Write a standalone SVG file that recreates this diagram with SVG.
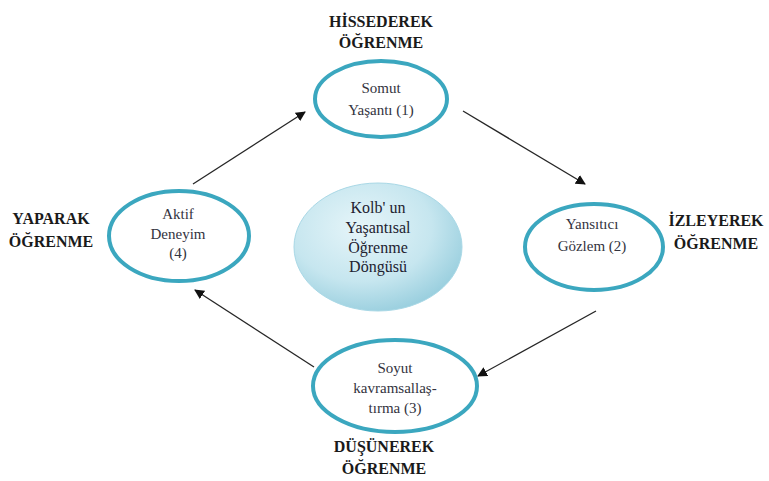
<svg xmlns="http://www.w3.org/2000/svg" width="769" height="481" viewBox="0 0 769 481">
  <style>
    .stage { fill: #ffffff; stroke: #3ba7bf; stroke-width: 4; }
    .node-text { font-family: 'Liberation Serif', 'Times New Roman', Times, 'DejaVu Serif', serif; font-size: 15px; fill: #333340; text-anchor: middle; }
    .core-text { font-family: 'Liberation Serif', 'Times New Roman', Times, 'DejaVu Serif', serif; font-size: 16px; fill: #222230; text-anchor: middle; }
    .mode { font-family: 'Liberation Serif', 'Times New Roman', Times, 'DejaVu Serif', serif; font-size: 16px; font-weight: bold; fill: #1a1a1a; text-anchor: middle; }
    .link { stroke: #262626; stroke-width: 1.3; fill: none; marker-end: url(#arrow); }
  </style>
  <defs>
    <marker id="arrow" viewBox="0 0 10 10" refX="9" refY="5" markerWidth="10" markerHeight="10" markerUnits="userSpaceOnUse" orient="auto">
      <path d="M0,0 L10,5 L0,10 z" fill="#111111"/>
    </marker>
    <radialGradient id="coreFill" cx="40%" cy="35%" r="70%">
      <stop offset="0" stop-color="#e6f5f9"/>
      <stop offset="0.6" stop-color="#c6e6ef"/>
      <stop offset="1" stop-color="#96cddd"/>
    </radialGradient>
  </defs>
  <rect width="769" height="481" fill="#ffffff"/>

  <!-- connectors -->
  <g id="connectors">
    <line class="link" x1="193" y1="184" x2="305" y2="112"/>
    <line class="link" x1="463" y1="111" x2="585" y2="184"/>
    <line class="link" x1="596" y1="311" x2="478" y2="376"/>
    <line class="link" x1="314" y1="367" x2="195" y2="290"/>
  </g>

  <!-- centre -->
  <g id="kolb-cycle">
    <ellipse cx="378" cy="247" rx="84" ry="64" fill="url(#coreFill)" stroke="#a9d8e6" stroke-width="1"/>
    <text class="core-text" x="378" y="213">Kolb' un</text>
    <text class="core-text" x="378" y="233">Yaşantısal</text>
    <text class="core-text" x="378" y="253">Öğrenme</text>
    <text class="core-text" x="378" y="272">Döngüsü</text>
  </g>

  <g id="somut-yasanti">
    <ellipse class="stage" cx="381" cy="99" rx="66" ry="38"/>
    <text class="node-text" x="381" y="93">Somut</text>
    <text class="node-text" x="381" y="115">Yaşantı (1)</text>
  </g>

  <g id="yansitici-gozlem">
    <ellipse class="stage" cx="594" cy="247" rx="69" ry="43"/>
    <text class="node-text" x="592" y="229">Yansıtıcı</text>
    <text class="node-text" x="592" y="251">Gözlem (2)</text>
  </g>

  <g id="soyut-kavramsallastirma">
    <ellipse class="stage" cx="395" cy="386" rx="82" ry="46"/>
    <text class="node-text" x="395" y="373">Soyut</text>
    <text class="node-text" x="395" y="393">kavramsallaş-</text>
    <text class="node-text" x="395" y="413">tırma (3)</text>
  </g>

  <g id="aktif-deneyim">
    <ellipse class="stage" cx="179" cy="236" rx="70" ry="45"/>
    <text class="node-text" x="178" y="219">Aktif</text>
    <text class="node-text" x="178" y="239">Deneyim</text>
    <text class="node-text" x="178" y="258">(4)</text>
  </g>

  <!-- learning modes -->
  <g id="label-hissederek">
    <text class="mode" x="381" y="27">HİSSEDEREK</text>
    <text class="mode" x="381" y="48">ÖĞRENME</text>
  </g>
  <g id="label-izleyerek">
    <text class="mode" x="716" y="226">İZLEYEREK</text>
    <text class="mode" x="716" y="249">ÖĞRENME</text>
  </g>
  <g id="label-dusunerek">
    <text class="mode" x="384" y="452">DÜŞÜNEREK</text>
    <text class="mode" x="384" y="474">ÖĞRENME</text>
  </g>
  <g id="label-yaparak">
    <text class="mode" x="51" y="224">YAPARAK</text>
    <text class="mode" x="51" y="247">ÖĞRENME</text>
  </g>
</svg>
